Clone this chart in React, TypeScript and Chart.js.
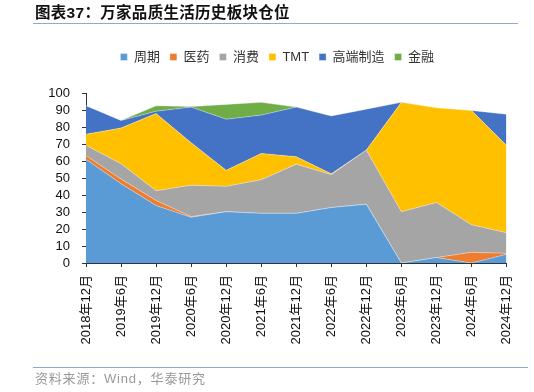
import React, { useEffect, useRef } from "react";
import { Chart, registerables } from "chart.js";

Chart.register(...registerables);

const categories = [
  "2018年12月", "2019年6月", "2019年12月", "2020年6月", "2020年12月", "2021年6月",
  "2021年12月", "2022年6月", "2022年12月", "2023年6月", "2023年12月", "2024年6月", "2024年12月",
];
const cyclical = [61, 46.6, 33.8, 26.9, 30.2, 29.2, 29.2, 32.6, 34.6, 0, 3.2, 0, 5.1];
const pharma = [2.2, 2.8, 3, 0.4, 0, 0, 0, 0, 0, 0, 0, 6.3, 0.6];
const consumer = [6, 9, 5.7, 18.5, 14.9, 19.8, 28.9, 19.4, 31.8, 30.2, 32.4, 16.2, 12.1];
const tmt = [6.5, 21, 45.4, 25, 9.4, 15.4, 4.4, 0.5, 0, 64.3, 55.7, 67.2, 51.4];
const manufacturing = [16.8, 4.4, 1.4, 20.9, 30.1, 22.6, 29.2, 34, 24.1, 0, 0, 0, 18.3];
const finance = [0, 0, 3.2, 0.3, 8.7, 7.5, 0, 0, 0, 0, 0, 0, 0];
const yTicks = [0, 10, 20, 30, 40, 50, 60, 70, 80, 90, 100];

const seriesNames = ["周期", "医药", "消费", "TMT", "高端制造", "金融"];
const seriesData = [cyclical, pharma, consumer, tmt, manufacturing, finance];
const seriesColors = ["#5B9BD5", "#ED7D31", "#A5A5A5", "#FFC000", "#4472C4", "#70AD47"];

const FONT = 'Arial, "Liberation Sans", "Noto Sans CJK SC", sans-serif';

export default function App() {
  const ref = useRef<HTMLCanvasElement | null>(null);

  useEffect(() => {
    if (!ref.current) return;
    const legendGap = {
      id: "legendGap",
      beforeInit(chart: any) {
        const lg = chart.legend;
        if (lg && !lg.__patched) {
          const orig = lg.fit;
          lg.fit = function () {
            orig.call(this);
            this.height += 19.5;
          };
          lg.__patched = true;
        }
      },
      afterLayout(chart: any) {
        const lg = chart.legend;
        if (lg) {
          lg.left += 24;
          lg.right += 24;
        }
      },
    };
    const chart = new Chart(ref.current, {
      type: "line",
      data: {
        labels: categories,
        datasets: seriesNames.map((name, i) => ({
          label: name,
          data: seriesData[i],
          backgroundColor: seriesColors[i],
          borderColor: "rgba(255,255,255,0.6)",
          borderWidth: 0.6,
          pointRadius: 0,
          fill: i === 0 ? "origin" : "-1",
          tension: 0,
        })),
      },
      options: {
        animation: false,
        responsive: false,
        layout: { padding: { top: 40.5, left: 0, right: 27.5, bottom: 0 } },
        plugins: {
          legend: {
            display: true,
            position: "top",
            labels: {
              boxWidth: 7,
              boxHeight: 7,
              padding: 10,
              color: "#333",
              font: { family: FONT, size: 13 },
            },
          },
          tooltip: { enabled: false },
        },
        scales: {
          x: {
            type: "category",
            offset: false,
            border: { display: true, color: "#333", width: 1 },
            grid: { display: true, drawOnChartArea: false, drawTicks: true, tickLength: 4, color: "#333" },
            ticks: {
              minRotation: 90,
              maxRotation: 90,
              autoSkip: false,
              padding: 8,
              color: "#111",
              font: { family: FONT, size: 13 },
            },
            afterFit(scale: any) {
              scale.height = 129;
            },
          },
          y: {
            stacked: true,
            min: 0,
            max: 100,
            afterBuildTicks(scale: any) {
              scale.ticks = yTicks.map((v) => ({ value: v }));
            },
            border: { display: true, color: "#333", width: 1 },
            grid: { display: true, drawOnChartArea: false, drawTicks: true, tickLength: 4, color: "#333" },
            ticks: {
              autoSkip: false,
              stepSize: 10,
              padding: 12,
              color: "#111",
              font: { family: FONT, size: 13 },
            },
            afterFit(scale: any) {
              scale.width = 86;
            },
          },
        },
      },
      plugins: [legendGap],
    } as any);
    return () => chart.destroy();
  }, []);

  return (
    <div style={{ position: "absolute", left: 0, top: 0, width: 534, height: 392, background: "#fff", overflow: "hidden" }}>
      <canvas ref={ref} width={534} height={392} style={{ position: "absolute", left: 0, top: 0, width: 534, height: 392 }} />
      <div
        style={{
          position: "absolute",
          left: 35,
          top: 4,
          fontFamily: FONT,
          fontWeight: "bold",
          fontSize: 15.5,
          lineHeight: "18px",
          color: "#111",
          letterSpacing: 0.3,
          whiteSpace: "nowrap",
        }}
      >
        图表37：万家品质生活历史板块仓位
      </div>
      <div style={{ position: "absolute", left: 33, top: 23, width: 485, height: 1, background: "#8FAACC" }} />
      <div style={{ position: "absolute", left: 33, top: 367, width: 495, height: 1, background: "#8FAACC" }} />
      <div
        style={{
          position: "absolute",
          left: 35,
          top: 371,
          fontFamily: FONT,
          fontSize: 13,
          lineHeight: "16px",
          letterSpacing: 0.8,
          color: "#999",
          whiteSpace: "nowrap",
        }}
      >
        资料来源：Wind，华泰研究
      </div>
    </div>
  );
}
